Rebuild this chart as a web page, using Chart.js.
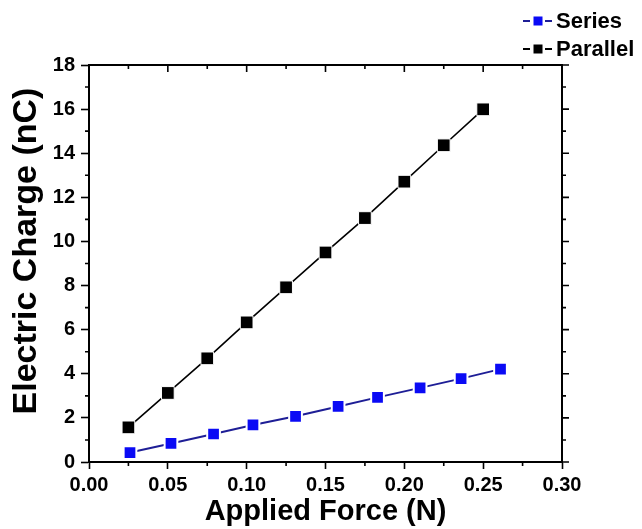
<!DOCTYPE html>
<html>
<head>
<meta charset="utf-8">
<script src="https://cdn.jsdelivr.net/npm/chart.js@4"></script>
<style>
  html, body { margin: 0; padding: 0; background: #fff; }
  #chart { display: block; }
</style>
</head>
<body>
<canvas id="chart" width="642" height="529"></canvas>
<script>
// values
const forceParallel = [0.025, 0.05, 0.075, 0.10, 0.125, 0.15, 0.175, 0.20, 0.225, 0.25];
const chargeParallel = [1.57, 3.13, 4.70, 6.33, 7.92, 9.50, 11.06, 12.71, 14.36, 15.99];
const forceSeries = [0.026, 0.052, 0.079, 0.104, 0.131, 0.158, 0.183, 0.210, 0.236, 0.261];
const chargeSeries = [0.43, 0.84, 1.27, 1.68, 2.07, 2.52, 2.93, 3.36, 3.78, 4.21];
const seriesNames = ['Series', 'Parallel'];
const xTicks = [0, 0.05, 0.10, 0.15, 0.20, 0.25, 0.30];
const yTicks = [0, 2, 4, 6, 8, 10, 12, 14, 16, 18];
const yTitle = 'Electric Charge (nC)';

const FONT = 'Arial, "Liberation Sans", sans-serif';

const toPoints = (xs, ys) => xs.map((v, i) => ({x: v, y: ys[i]}));

// box around the plot, mirrored/minor ticks, y title and the legend
const frameTicks = {
	id: 'frameTicks',
	afterDraw(chart) {
		const {ctx, chartArea: a, scales: {x, y}} = chart;
		ctx.save();
		ctx.strokeStyle = '#000';
		ctx.lineWidth = 2;
		ctx.beginPath();
		ctx.moveTo(a.left, a.top);
		ctx.lineTo(a.right, a.top);
		ctx.lineTo(a.right, a.bottom);
		ctx.stroke();

		ctx.lineWidth = 1.6;
		ctx.beginPath();
		// majors at the tick lists, minors half way
		xTicks.forEach((v, i) => {
			const px = x.getPixelForValue(v);
			ctx.moveTo(px, a.top); ctx.lineTo(px, a.top + 7);
			if (i < xTicks.length - 1) {
				const mx = x.getPixelForValue((v + xTicks[i + 1]) / 2);
				ctx.moveTo(mx, a.bottom); ctx.lineTo(mx, a.bottom + 4);
				ctx.moveTo(mx, a.top); ctx.lineTo(mx, a.top + 4);
			}
		});
		yTicks.forEach((v, i) => {
			const py = y.getPixelForValue(v);
			ctx.moveTo(a.right, py); ctx.lineTo(a.right + 7, py);
			if (i < yTicks.length - 1) {
				const my = y.getPixelForValue((v + yTicks[i + 1]) / 2);
				ctx.moveTo(a.left, my); ctx.lineTo(a.left - 4, my);
				ctx.moveTo(a.right, my); ctx.lineTo(a.right + 4, my);
			}
		});
		ctx.stroke();

		// y title, sits a bit above the middle of the axis
		ctx.save();
		ctx.translate(25, 251);
		ctx.rotate(-Math.PI / 2);
		ctx.font = 'bold 34px ' + FONT;
		ctx.textAlign = 'center';
		ctx.textBaseline = 'middle';
		ctx.fillStyle = '#000';
		ctx.fillText(yTitle, 0, 2);
		ctx.restore();

		// legend
		ctx.font = 'bold 22px ' + FONT;
		ctx.textBaseline = 'middle';
		chart.data.datasets.forEach((ds, i) => {
			const cy = 21 + i * 28;
			ctx.strokeStyle = ds.borderColor;
			ctx.lineWidth = 2;
			ctx.beginPath();
			ctx.moveTo(523, cy); ctx.lineTo(530, cy);
			ctx.moveTo(545, cy); ctx.lineTo(552, cy);
			ctx.stroke();
			ctx.fillStyle = ds.pointBackgroundColor;
			ctx.fillRect(533.5, cy - 4.5, 9, 9);
			ctx.fillStyle = '#000';
			ctx.fillText(ds.label, 556, cy + 1);
		});
		ctx.restore();
	}
};

new Chart(document.getElementById('chart'), {
	type: 'scatter',
	data: {
		datasets: [
			{
				label: seriesNames[0],
				data: toPoints(forceSeries, chargeSeries),
				showLine: true,
				borderColor: '#1e1e96',
				borderWidth: 2,
				pointStyle: 'rect',
				pointRadius: 9,
				pointBackgroundColor: '#0a0af5',
				pointBorderColor: '#fff',
				pointBorderWidth: 2
			},
			{
				label: seriesNames[1],
				data: toPoints(forceParallel, chargeParallel),
				showLine: true,
				borderColor: '#000',
				borderWidth: 1.6,
				pointStyle: 'rect',
				pointRadius: 9,
				pointBackgroundColor: '#000',
				pointBorderColor: '#fff',
				pointBorderWidth: 1
			}
		]
	},
	options: {
		responsive: false,
		animation: false,
		layout: {padding: {left: 0, top: 65, right: 80, bottom: 0}},
		plugins: {legend: {display: false}, tooltip: {enabled: false}},
		scales: {
			x: {
				type: 'linear',
				min: 0,
				max: 0.3,
				afterFit: (s) => { s.height = 67; },
				afterBuildTicks: (s) => { s.ticks = xTicks.map(v => ({value: v})); },
				ticks: {
					color: '#000',
					padding: 4,
					font: {family: FONT, size: 20, weight: 'bold'},
					callback: (v) => Number(v).toFixed(2)
				},
				grid: {drawOnChartArea: false, tickLength: 7, tickWidth: 1.6, tickColor: '#000'},
				border: {display: true, color: '#000', width: 2},
				title: {
					display: true,
					text: 'Applied Force (N)',
					color: '#000',
					padding: {top: 0, bottom: 0},
					font: {family: FONT, size: 29, weight: 'bold'}
				}
			},
			y: {
				type: 'linear',
				min: 0,
				max: 18,
				afterFit: (s) => { s.width = 89; },
				afterBuildTicks: (s) => { s.ticks = yTicks.map(v => ({value: v})); },
				ticks: {
					color: '#000',
					padding: 6,
					font: {family: FONT, size: 20, weight: 'bold'}
				},
				grid: {drawOnChartArea: false, tickLength: 8, tickWidth: 1.6, tickColor: '#000'},
				border: {display: true, color: '#000', width: 2},
				title: {display: false}
			}
		}
	},
	plugins: [frameTicks]
});
</script>
</body>
</html>
